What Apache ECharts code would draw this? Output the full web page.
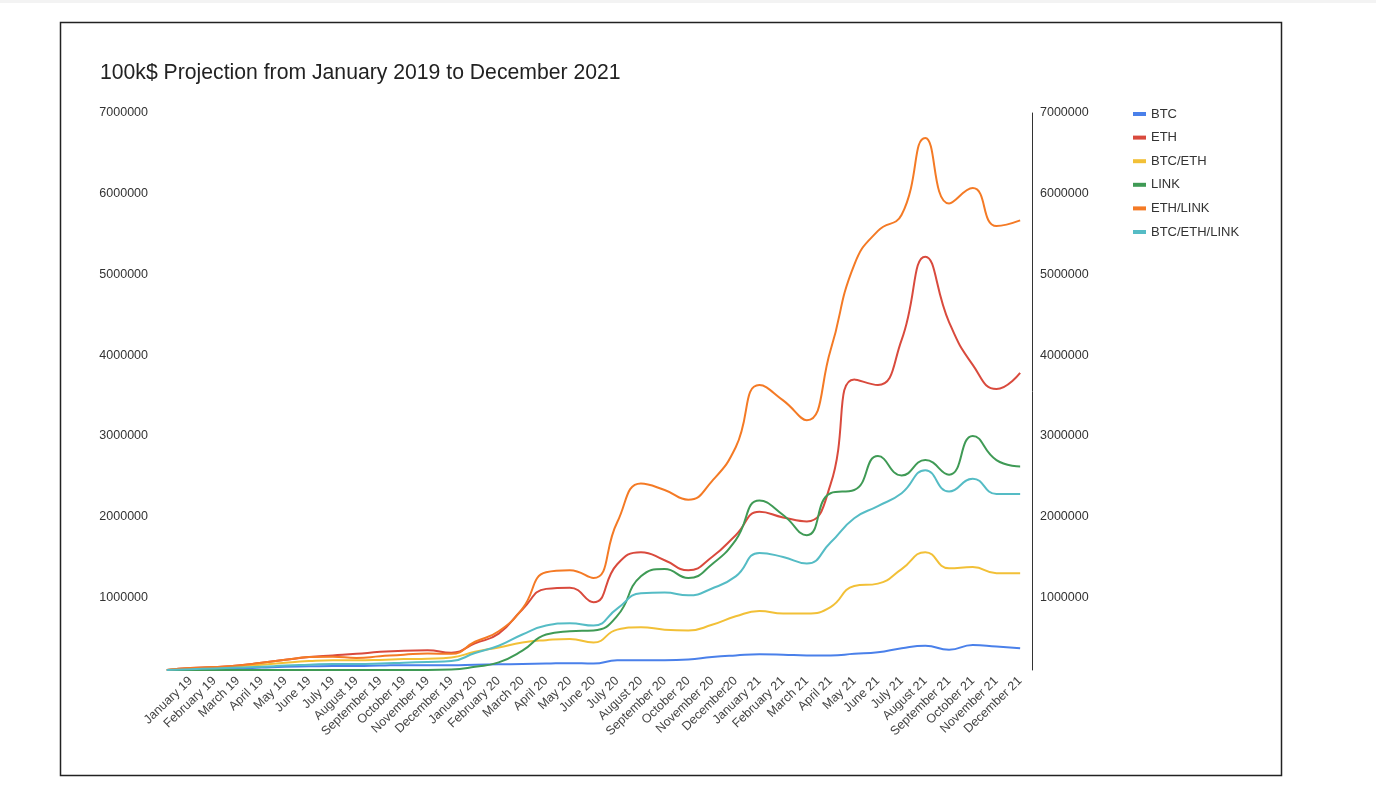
<!DOCTYPE html>
<html>
<head>
<meta charset="utf-8">
<script src="https://cdn.jsdelivr.net/npm/echarts@6/dist/echarts.min.js"></script>
<style>
html,body{margin:0;padding:0;background:#fff;}
#c{width:1376px;height:798px;}
</style>
</head>
<body>
<div id="c"></div>
<script>
// first category is the unlabeled starting point (100k$ invested)
var categories = ["","January 19","February 19","March 19","April 19","May 19","June 19","July 19","August 19","September 19","October 19","November 19","December 19","January 20","February 20","March 20","April 20","May 20","June 20","July 20","August 20","September 20","October 20","November 20","December20","January 21","February 21","March 21","April 21","May 21","June 21","July 21","August 21","September 21","October 21","November 21","December 21"];
var seriesNames = ["BTC","ETH","BTC/ETH","LINK","ETH/LINK","BTC/ETH/LINK"];
var btc = [100000,105000,115000,120000,130000,140000,145000,150000,150000,155000,160000,160000,160000,165000,170000,175000,180000,185000,180000,220000,220000,220000,230000,260000,280000,295000,290000,280000,280000,300000,320000,370000,400000,350000,410000,390000,370000];
var eth = [100000,124000,136000,155000,190000,226000,260000,280000,300000,325000,340000,345000,315000,430000,550000,850000,1105000,1120000,940000,1410000,1560000,1460000,1335000,1500000,1770000,2060000,1990000,1940000,2400000,3700000,3630000,4190000,5220000,4410000,3880000,3580000,3780000];
var btcEth = [100000,120000,130000,145000,165000,190000,210000,220000,220000,225000,235000,240000,255000,325000,380000,440000,470000,485000,440000,600000,630000,600000,590000,660000,765000,830000,800000,800000,880000,1140000,1170000,1350000,1560000,1360000,1375000,1300000,1300000];
var link = [100000,100000,100000,100000,100000,100000,100000,100000,100000,100000,100000,100000,105000,140000,195000,340000,540000,580000,590000,770000,1260000,1350000,1240000,1410000,1710000,2200000,2020000,1770000,2290000,2330000,2750000,2510000,2700000,2520000,3000000,2700000,2620000];
var ethLink = [100000,124000,136000,155000,190000,226000,260000,265000,250000,270000,290000,305000,300000,450000,580000,860000,1310000,1335000,1240000,1930000,2410000,2330000,2210000,2440000,2860000,3630000,3440000,3195000,4060000,5120000,5540000,5740000,6690000,5880000,6070000,5600000,5670000];
var btcEthLink = [100000,110000,120000,130000,140000,155000,165000,175000,175000,180000,190000,200000,210000,310000,400000,540000,650000,680000,650000,860000,1050000,1060000,1025000,1110000,1260000,1550000,1500000,1420000,1680000,1980000,2130000,2290000,2575000,2310000,2470000,2280000,2280000];
var yMin = 100000, yMax = 7000000, yStep = 100000, yLabelStep = 1000000;

var colors = ['#4a80ea','#d94a3d','#f2c037','#3f9a55','#f47a25','#55bcc5'];
var allData = [btc, eth, btcEth, link, ethLink, btcEthLink];
var font = '"Liberation Sans", Arial, sans-serif';

var chart = echarts.init(document.getElementById('c'), null, {renderer:'canvas'});
function yAxis(pos){
  return {
    type:'value', position:pos, min:yMin, max:yMax, interval:yStep,
    axisLine:{show: pos==='right', lineStyle:{color:'#333', width:1}},
    axisTick:{show:false},
    splitLine:{show:false},
    axisLabel:{
      margin: pos==='right' ? 8 : 7,
      fontSize:12.5, color:'#333', fontFamily:font,
      formatter:function(v){ return (v % yLabelStep === 0) ? String(v) : ''; }
    }
  };
}
chart.setOption({
  animation:false,
  backgroundColor:'#fff',
  color: colors,
  title:{
    text:'100k$ Projection from January 2019 to December 2021',
    left:95, top:58,
    textStyle:{fontSize:21.2, fontWeight:'normal', color:'#222', fontFamily:font}
  },
  legend:{
    orient:'vertical', left:1133, top:107.5, padding:0,
    itemWidth:13, itemHeight:4, itemGap:10.6, icon:'rect',
    textStyle:{fontSize:13, color:'#333', fontFamily:font},
    data: seriesNames
  },
  grid:{left:155, right:344, top:113, bottom:128, containLabel:false},
  xAxis:{
    type:'category', data:categories, boundaryGap:true,
    axisLine:{show:false}, axisTick:{show:false},
    axisLabel:{interval:0, rotate:44, fontSize:12.5, color:'#444', fontFamily:font, margin:9}
  },
  yAxis:[yAxis('left'), yAxis('right')],
  graphic:[
    {type:'rect', shape:{x:0, y:0, width:1376, height:3}, style:{fill:'#f3f3f3'}, silent:true},
    {type:'rect', shape:{x:60.5, y:22.5, width:1221, height:753}, style:{fill:'none', stroke:'#222', lineWidth:1.5}, silent:true}
  ],
  series: seriesNames.map(function(n,i){
    return {name:n, type:'line', data:allData[i], smooth:0.5, symbol:'none', yAxisIndex:0,
      lineStyle:{width:2, color:colors[i]}, itemStyle:{color:colors[i]}};
  })
});
</script>
</body>
</html>
